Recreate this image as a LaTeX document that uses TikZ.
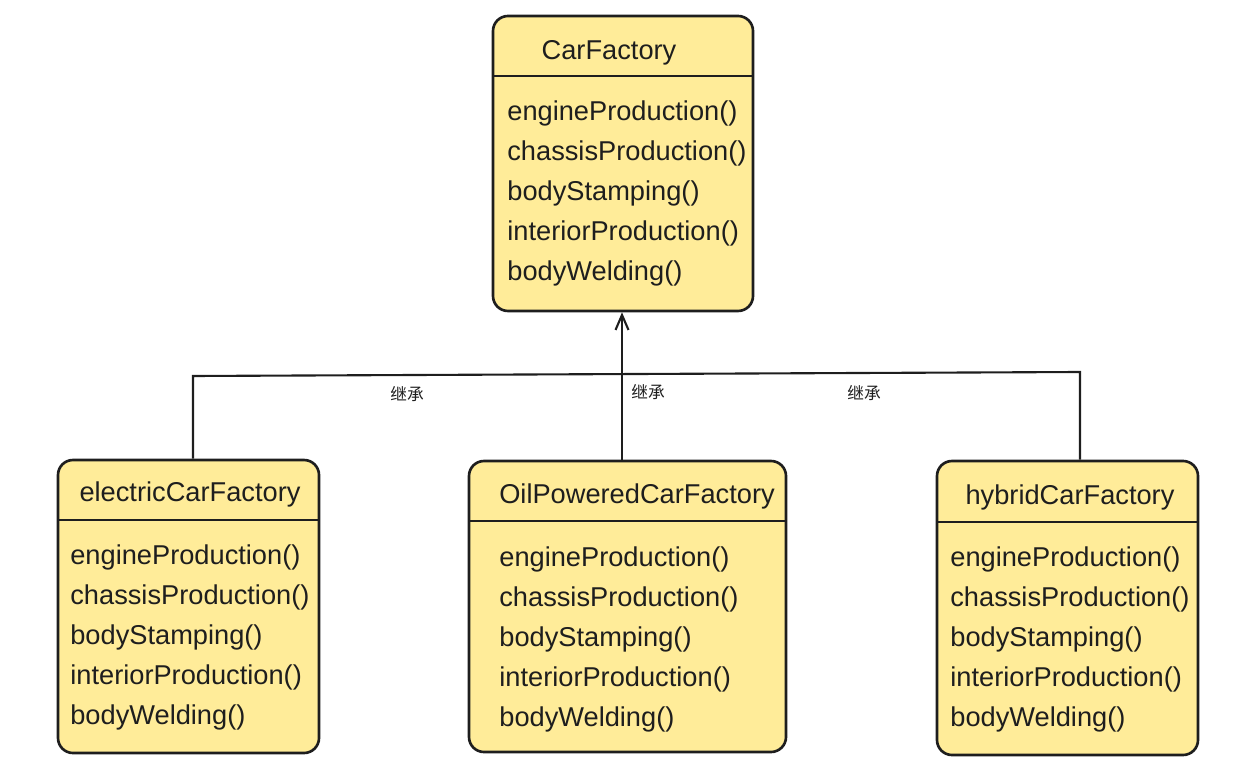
\documentclass[tikz,border=0pt]{standalone}
\usepackage{fontspec}
\setmainfont{Liberation Sans}
\newfontfamily\cjk{Noto Sans CJK SC}
\usetikzlibrary{arrows.meta,fit}
\definecolor{boxfill}{HTML}{FFEC99}
\definecolor{ink}{HTML}{1E1E1E}
\newcommand{\methodlist}{engineProduction(),chassisProduction(),bodyStamping(),interiorProduction(),bodyWelding()}
\tikzset{
  classbox/.style={draw=ink, line width=1.5pt, fill=boxfill, rounded corners=0.3cm, inner sep=0pt},
  classname/.style={text=ink, font=\fontsize{15.5}{18}\selectfont, inner sep=0pt},
  method/.style={anchor=west, text=ink, font=\fontsize{15.5}{18}\selectfont, inner sep=0pt},
  link/.style={draw=ink, line width=1.2pt},
  tag/.style={text=ink, font=\cjk\fontsize{9.5}{11}\selectfont, inner sep=0pt}
}
\begin{document}
\begin{tikzpicture}[x=0.02cm, y=-0.02cm]
\useasboundingbox (0,0) rectangle (1243,776);
% class boxes
\node[classbox, fit={(493,16) (753,311)}] (car) {};
\node[classbox, fit={(58,460) (319,753)}] (elec) {};
\node[classbox, fit={(469,461) (786,752)}] (oil) {};
\node[classbox, fit={(937,461) (1198,755)}] (hyb) {};
% dividers
\draw[link, line width=1.5pt] (493,76) -- (753,76);
\draw[link, line width=1.5pt] (58,520) -- (319,520);
\draw[link, line width=1.5pt] (469,521) -- (786,521);
\draw[link, line width=1.5pt] (937,522) -- (1198,522);
% names
\node[classname] (car-name) at (609,53) {CarFactory};
\node[classname] (elec-name) at (190,494) {electricCarFactory};
\node[classname] (oil-name) at (637,496) {OilPoweredCarFactory};
\node[classname] (hyb-name) at (1070,497) {hybridCarFactory};
% methods
\foreach \bx/\mx/\my in {car/507/113, elec/70/557, oil/499/559, hyb/950/559}
  \foreach \m [count=\i from 0] in \methodlist
    \node[method] (\bx-m\i) at (\mx,\my+40*\i) {\m};
% inheritance
\coordinate (jl) at (193,376);
\coordinate (jm) at (622,374);
\coordinate (jr) at (1080,372);
\draw[link] (jl |- elec.north) -- (jl) -- (jr) -- (jr |- hyb.north);
\draw[link, -{Straight Barb[length=0.3cm,width=0.26cm]}] (jm |- oil.north) -- (jm |- car.south);
\node[tag] (tag-l) at (407,394) {继承};
\node[tag] (tag-m) at (648,392) {继承};
\node[tag] (tag-r) at (864,393) {继承};
\end{tikzpicture}
\end{document}
